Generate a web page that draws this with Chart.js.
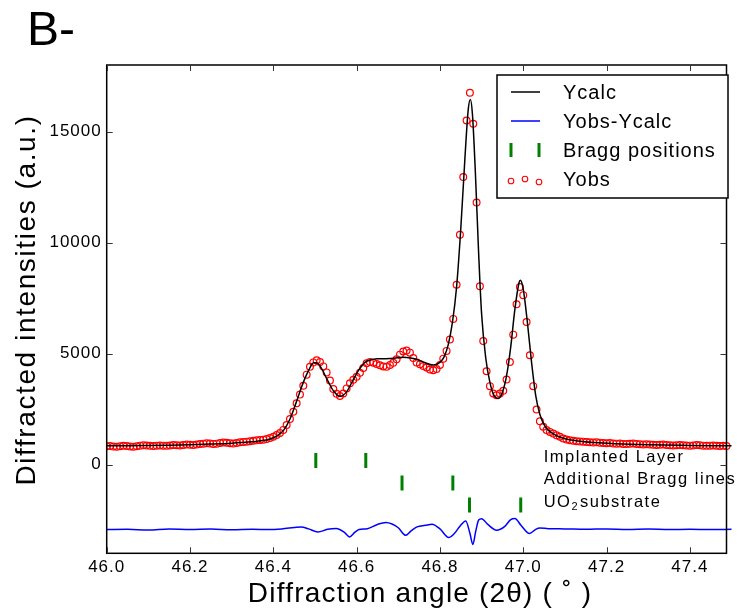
<!DOCTYPE html>
<html>
<head>
<meta charset="utf-8">
<script src="https://cdn.jsdelivr.net/npm/chart.js@4.4.1/dist/chart.umd.min.js"></script>
<style>
  html, body { margin: 0; padding: 0; background: #fff; }
</style>
</head>
<body>
<canvas id="xrd" width="737" height="613"></canvas>
<script>
// observed profile: 2theta grid starts at 46.0, step 0.008
const obsStart = 46.0;
const obsStep = 0.008;
const yobs = [
  820, 830, 810, 800, 820, 840, 830, 810, 800, 820,
  850, 870, 860, 840, 830, 850, 860, 850, 840, 860,
  880, 870, 860, 880, 900, 890, 880, 900, 920, 940,
  960, 950, 930, 940, 970, 990, 980, 960, 950, 970,
  1000, 1020, 1030, 1050, 1070, 1090, 1110, 1120, 1150, 1190,
  1250, 1330, 1420, 1560, 1780, 2050, 2380, 2760, 3150, 3550,
  4050, 4400, 4600, 4700, 4620, 4420, 4150, 3780, 3400, 3190,
  3090, 3200, 3430, 3660, 3820, 3950, 4130, 4350, 4560, 4620,
  4590, 4530, 4470, 4420, 4400, 4480, 4580, 4740, 4950, 5090,
  5140, 5040, 4800, 4600, 4520, 4440, 4370, 4280, 4250, 4300,
  4480, 4770, 5120, 5630, 6560, 8100, 10350, 12950, 15500, 16750,
  15350, 11800, 8030, 5560, 4200, 3530, 3200, 3120, 3200, 3320,
  3830, 4620, 5850, 7220, 8000, 7630, 6420, 4920, 3530, 2480,
  1950, 1700, 1550, 1470, 1400, 1320, 1250, 1170, 1130, 1095,
  1070, 1050, 1040, 1030, 1010, 1000, 990, 1000, 985, 970,
  960, 965, 950, 940, 945, 930, 920, 935, 945, 930,
  910, 900, 910, 900, 890, 880, 890, 900, 880, 870,
  860, 870, 880, 870, 860, 850, 860, 880, 870, 850,
  840, 850, 860, 845, 830, 840, 830, 820
];

// calculated profile
const calcX = [46.00, 46.05, 46.10, 46.15, 46.20, 46.25, 46.30, 46.34, 46.37, 46.39,
  46.41, 46.425, 46.44, 46.455, 46.47, 46.485, 46.497, 46.505, 46.515, 46.53,
  46.545, 46.56, 46.575, 46.59, 46.605, 46.62, 46.635, 46.65, 46.67, 46.69,
  46.71, 46.73, 46.75, 46.77, 46.785, 46.80, 46.81, 46.82, 46.83, 46.84,
  46.85, 46.86, 46.868, 46.873, 46.878, 46.885, 46.893, 46.90, 46.91, 46.92,
  46.93, 46.94, 46.95, 46.96, 46.97, 46.98, 46.99, 46.993, 47.00, 47.01,
  47.02, 47.03, 47.04, 47.05, 47.06, 47.08, 47.10, 47.13, 47.17, 47.22,
  47.30, 47.40, 47.50];
const calcY = [850, 845, 855, 870, 890, 920, 960, 1010, 1070, 1140,
  1300, 1550, 2050, 2800, 3600, 4250, 4580, 4570, 4350, 3800,
  3300, 3070, 3250, 3750, 4250, 4600, 4720, 4760, 4770, 4790,
  4830, 4800, 4700, 4550, 4480, 4600, 4850, 5400, 6400, 8000,
  10600, 13800, 16000, 16450, 15800, 13200, 9500, 6800, 4800, 3700,
  3100, 2980, 3250, 4000, 5300, 7000, 8200, 8300, 7900, 6400,
  4600, 3100, 2250, 1800, 1550, 1300, 1160, 1060, 990, 940,
  890, 860, 840];

// difference curve Yobs-Ycalc (offset)
const diffX = [46.00, 46.05, 46.10, 46.15, 46.20, 46.25, 46.30, 46.35, 46.39, 46.42,
  46.45, 46.467, 46.485, 46.507, 46.53, 46.551, 46.57, 46.583, 46.596, 46.606,
  46.626, 46.65, 46.67, 46.685, 46.70, 46.718, 46.73, 46.745, 46.765, 46.781,
  46.80, 46.821, 46.835, 46.848, 46.862, 46.872, 46.879, 46.886, 46.893, 46.90,
  46.915, 46.936, 46.955, 46.97, 46.98, 46.995, 47.015, 47.03, 47.04, 47.06,
  47.10, 47.15, 47.20, 47.25, 47.30, 47.35, 47.40, 47.45, 47.50];
const diffY = [-2930, -2920, -2950, -2900, -2930, -2910, -2940, -2920, -2930, -2900,
  -2840, -2810, -2900, -3040, -2920, -2880, -3050, -3260, -3050, -2930,
  -2890, -2700, -2610, -2680, -2850, -3190, -3000, -2810, -2740, -2690,
  -2900, -3290, -3100, -2780, -2540, -3100, -3600, -3000, -2500, -2440,
  -2700, -2960, -2800, -2480, -2430, -2750, -3110, -2920, -2860, -2890,
  -2900, -2920, -2900, -2930, -2910, -2930, -2920, -2930, -2920];

// Bragg reflection markers, three phases
const braggX = [46.502, 46.622, 46.709, 46.831, 46.871, 46.994];
const braggY = [185, 185, -830, -830, -1820, -1820];
const phaseNames = ['Implanted Layer', 'Additional Bragg lines', 'UO'];
const phaseY = [330, -675, -1690];

const xTicks = [46.0, 46.2, 46.4, 46.6, 46.8, 47.0, 47.2, 47.4];
const yTicks = [0, 5000, 10000, 15000];
const xRange = [46.0, 47.488];
const yRange = [-4000, 18000];

const FONT = "'Liberation Sans', Arial, Helvetica, sans-serif";

const obsPoints = yobs.map((y, i) => ({ x: obsStart + i * obsStep, y: y }));
const calcPoints = calcX.map((x, i) => ({ x: x, y: calcY[i] }));
const diffPoints = diffX.map((x, i) => ({ x: x, y: diffY[i] }));
const braggPoints = braggX.map((x, i) => ({ x: x, y: braggY[i] }));

function line(ctx, x1, y1, x2, y2) {
    ctx.beginPath();
    ctx.moveTo(x1, y1);
    ctx.lineTo(x2, y2);
    ctx.stroke();
}

// frame with inward ticks on all four sides, titles, legend, phase labels
const decorPlugin = {
    id: 'decor',
    beforeDraw(chart) {
        // slightly spaced glyphs, like the original figure
        chart.ctx.letterSpacing = '1px';
    },
    afterDraw(chart) {
        const ctx = chart.ctx;
        const a = chart.chartArea;
        const xs = chart.scales.x;
        const ys = chart.scales.y;
        ctx.save();

        ctx.strokeStyle = '#000';
        ctx.lineWidth = 1.5;
        ctx.strokeRect(a.left, a.top, a.right - a.left, a.bottom - a.top);

        ctx.lineWidth = 1;
        ctx.strokeStyle = '#333';
        xTicks.forEach(v => {
            const p = Math.round(xs.getPixelForValue(v)) + 0.5;
            line(ctx, p, a.bottom, p, a.bottom - 6);
            line(ctx, p, a.top, p, a.top + 6);
        });
        yTicks.forEach(v => {
            const p = Math.round(ys.getPixelForValue(v)) + 0.5;
            line(ctx, a.left, p, a.left + 6, p);
            line(ctx, a.right, p, a.right - 6, p);
        });

        // panel letter
        ctx.fillStyle = '#000';
        ctx.letterSpacing = '0px';
        ctx.font = '48px ' + FONT;
        ctx.textAlign = 'left';
        ctx.textBaseline = 'alphabetic';
        ctx.fillText('B-', 27, 45);

        // axis titles
        ctx.letterSpacing = '1.2px';
        ctx.font = '28px ' + FONT;
        ctx.textAlign = 'center';
        ctx.textBaseline = 'middle';
        ctx.fillText('Diffraction angle (2\u03b8) ( \u02da )', 420, 594);
        ctx.save();
        ctx.translate(27, 300);
        ctx.rotate(-Math.PI / 2);
        ctx.letterSpacing = '1.6px';
        ctx.font = '28px ' + FONT;
        ctx.fillText('Diffracted intensities (a.u.)', 0, 0);
        ctx.restore();

        // phase labels, anchored in data coordinates
        ctx.letterSpacing = '1.5px';
        ctx.textAlign = 'left';
        ctx.textBaseline = 'middle';
        const lx = xs.getPixelForValue(47.049);
        ctx.font = '16.5px ' + FONT;
        ctx.fillText(phaseNames[0], lx, ys.getPixelForValue(phaseY[0]));
        ctx.fillText(phaseNames[1], lx, ys.getPixelForValue(phaseY[1]));
        const uy = ys.getPixelForValue(phaseY[2]);
        ctx.fillText('UO', lx, uy);
        let w = ctx.measureText('UO').width;
        ctx.font = '11px ' + FONT;
        ctx.fillText('2', lx + w, uy + 5);
        w += ctx.measureText('2').width + 1;
        ctx.font = '16.5px ' + FONT;
        ctx.fillText('substrate', lx + w, uy);

        // legend
        const bx = 497, by = 75, bw = 231, bh = 123;
        ctx.fillStyle = '#fff';
        ctx.fillRect(bx, by, bw, bh);
        ctx.strokeStyle = '#000';
        ctx.lineWidth = 1.5;
        ctx.strokeRect(bx, by, bw, bh);

        const rows = [92, 121, 150, 179];
        ctx.lineWidth = 1.5;
        ctx.strokeStyle = '#000';
        line(ctx, 511, rows[0], 540, rows[0]);
        ctx.strokeStyle = '#0000ff';
        line(ctx, 511, rows[1], 540, rows[1]);
        ctx.strokeStyle = '#008000';
        ctx.lineWidth = 3;
        line(ctx, 511, rows[2] - 7, 511, rows[2] + 7);
        line(ctx, 539, rows[2] - 7, 539, rows[2] + 7);
        ctx.strokeStyle = '#ff0000';
        ctx.lineWidth = 1.1;
        [[511, 181], [525, 179], [539, 182]].forEach(c => {
            ctx.beginPath();
            ctx.arc(c[0], c[1], 2.8, 0, Math.PI * 2);
            ctx.stroke();
        });

        ctx.fillStyle = '#000';
        ctx.font = '20px ' + FONT;
        ctx.letterSpacing = '1px';
        ctx.textAlign = 'left';
        ctx.textBaseline = 'middle';
        const labels = chart.data.datasets.map(d => d.label);
        labels.forEach((t, i) => ctx.fillText(t, 563, rows[i] + 1));

        ctx.restore();
    }
};

Chart.defaults.color = '#000';
Chart.defaults.font.family = FONT;

const chart = new Chart(document.getElementById('xrd'), {
    type: 'scatter',
    data: {
        datasets: [
            {
                label: 'Ycalc',
                data: calcPoints,
                showLine: true,
                borderColor: '#000',
                borderWidth: 1.5,
                pointRadius: 0,
                cubicInterpolationMode: 'monotone',
                order: 0,
                clip: { left: 0, top: 0, right: 6, bottom: 0 }
            },
            {
                label: 'Yobs-Ycalc',
                data: diffPoints,
                showLine: true,
                borderColor: '#0000ff',
                borderWidth: 1.5,
                pointRadius: 0,
                cubicInterpolationMode: 'monotone',
                order: 2,
                clip: { left: 0, top: 0, right: 6, bottom: 0 }
            },
            {
                label: 'Bragg positions',
                data: braggPoints,
                pointStyle: 'line',
                rotation: 90,
                pointRadius: 7.5,
                borderWidth: 3,
                borderColor: '#008000',
                order: 3
            },
            {
                label: 'Yobs',
                data: obsPoints,
                showLine: false,
                pointStyle: 'circle',
                pointRadius: 3.4,
                borderWidth: 1.2,
                borderColor: '#ff0000',
                backgroundColor: 'rgba(0,0,0,0)',
                order: 1,
                clip: { left: 0, top: 0, right: 6, bottom: 0 }
            }
        ]
    },
    options: {
        responsive: false,
        animation: false,
        devicePixelRatio: 1,
        layout: { padding: { top: 65, right: 4.5, left: 0, bottom: 0 } },
        plugins: {
            legend: { display: false },
            tooltip: { enabled: false }
        },
        scales: {
            x: {
                type: 'linear',
                bounds: 'data',
                min: xRange[0],
                max: xRange[1],
                grid: { display: false, drawTicks: false },
                border: { display: false },
                afterBuildTicks: s => { s.ticks = xTicks.map(v => ({ value: v })); },
                afterFit: s => {
                    s.height = 59.7;
                    s.paddingLeft = 0;
                    s.paddingRight = 0;
                },
                ticks: {
                    padding: 4,
                    maxRotation: 0,
                    autoSkip: false,
                    font: { size: 17 },
                    callback: v => Number(v).toFixed(1)
                }
            },
            y: {
                type: 'linear',
                bounds: 'data',
                min: yRange[0],
                max: yRange[1],
                grid: { display: false, drawTicks: false },
                border: { display: false },
                afterBuildTicks: s => { s.ticks = yTicks.map(v => ({ value: v })); },
                afterFit: s => { s.width = 106.7; },
                ticks: {
                    padding: 5,
                    font: { size: 17 },
                    callback: v => String(v)
                }
            }
        }
    },
    plugins: [decorPlugin]
});
</script>
</body>
</html>
